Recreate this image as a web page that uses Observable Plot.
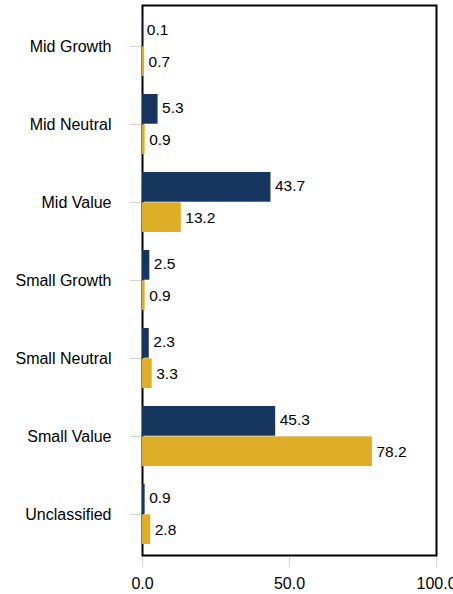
<!DOCTYPE html>
<html>
<head>
<meta charset="utf-8">
<script src="https://cdn.jsdelivr.net/npm/d3@7"></script>
<script src="https://cdn.jsdelivr.net/npm/@observablehq/plot@0.6"></script>
<style>
  html, body { margin: 0; padding: 0; background: #fff; }
</style>
</head>
<body>
<div id="chart"></div>
<script>
const categories = ["Mid Growth", "Mid Neutral", "Mid Value", "Small Growth", "Small Neutral", "Small Value", "Unclassified"];
const seriesA = [0.1, 5.3, 43.7, 2.5, 2.3, 45.3, 0.9];   // navy
const seriesB = [0.7, 0.9, 13.2, 0.9, 3.3, 78.2, 2.8];   // gold
const xTicks = [0, 50, 100];

const navy = "#17365f";
const gold = "#dfae28";

const W = 453, H = 594;
const mT = 5, mB = 39, mL = 142, mR = 17;
const band = (H - mT - mB) / categories.length;
const outer = 9;
const half = band / 2;

const dataA = categories.map((c, i) => ({category: c, value: seriesA[i]}));
const dataB = categories.map((c, i) => ({category: c, value: seriesB[i]}));

const chart = Plot.plot({
  width: W,
  height: H,
  marginTop: mT,
  marginBottom: mB,
  marginLeft: mL,
  marginRight: mR,
  style: {fontFamily: "'Liberation Sans', Arial, sans-serif", fontSize: "16px", color: "#000", background: "#fff"},
  x: {domain: [0, 100]},
  y: {type: "band", domain: categories, padding: 0},
  marks: [
    Plot.axisY({tickSize: 12, tickPadding: 19, stroke: "#d4d4d4", label: null, fontSize: 16}),
    Plot.axisX({ticks: xTicks, tickSize: 12, tickPadding: 10, stroke: "#d4d4d4", tickFormat: d => d.toFixed(1), label: null, fontSize: 16}),
    Plot.frame({stroke: "#000", strokeWidth: 2}),
    Plot.barX(dataA, {x: "value", y: "category", fill: navy, insetTop: outer, insetBottom: half}),
    Plot.barX(dataB, {x: "value", y: "category", fill: gold, insetTop: half, insetBottom: outer}),
    Plot.text(dataA, {x: "value", y: "category", text: d => d.value.toFixed(1), textAnchor: "start", dx: 4, dy: -(half - outer) / 2 - 1, fontSize: 15.5}),
    Plot.text(dataB, {x: "value", y: "category", text: d => d.value.toFixed(1), textAnchor: "start", dx: 4, dy: (half - outer) / 2, fontSize: 15.5})
  ]
});
document.getElementById("chart").appendChild(chart);
</script>
</body>
</html>
